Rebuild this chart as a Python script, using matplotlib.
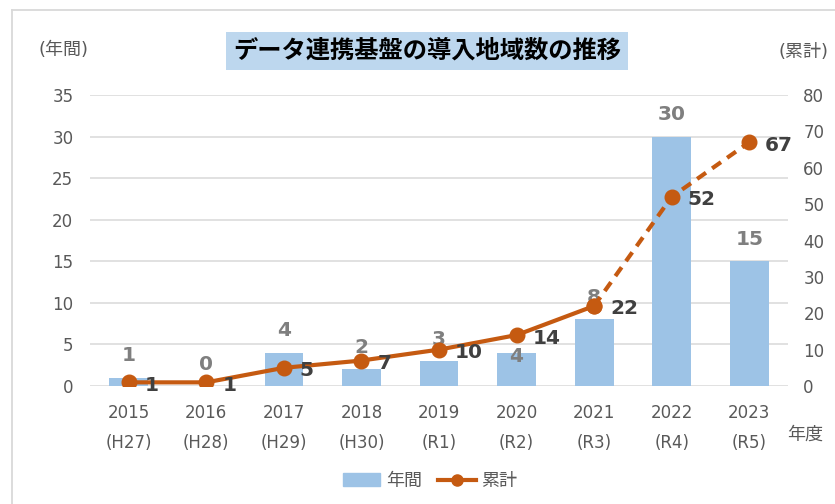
import numpy as np
import matplotlib.pyplot as plt
from matplotlib.lines import Line2D

plt.rcParams['font.family'] = ['DejaVu Sans', 'Noto Sans CJK JP']

# Data
years = ['2015', '2016', '2017', '2018', '2019', '2020', '2021', '2022', '2023']
eras = ['(H27)', '(H28)', '(H29)', '(H30)', '(R1)', '(R2)', '(R3)', '(R4)', '(R5)']
annual = [1, 0, 4, 2, 3, 4, 8, 30, 15]
cumulative = [1, 1, 5, 7, 10, 14, 22, 52, 67]
dashed_from = '2021'  # line is drawn dashed from this year on

BAR_COLOR = '#9DC3E6'
LINE_COLOR = '#C55A11'
GRID_COLOR = '#D9D9D9'
TICK_COLOR = '#595959'

fig = plt.figure(figsize=(8.35, 5.04), dpi=100)
W, H = 835, 504
ax = fig.add_axes([90 / W, 1 - 386 / H, (788 - 90) / W, (386 - 95) / H])
ax2 = ax.twinx()

x = np.arange(len(years))
ax.bar(x, annual, width=0.5, color=BAR_COLOR, zorder=2)
ax.set_xlim(-0.5, len(years) - 0.5)
ax.set_ylim(0, 35)
ax.set_yticks(range(0, 36, 5))
ax.grid(axis='y', color=GRID_COLOR, linewidth=1.1, zorder=0)
ax.set_axisbelow(True)

ax.set_xticks(x)
ax.set_xticklabels([f'{y}\n{e}' for y, e in zip(years, eras)], linespacing=1.85)
ax.tick_params(axis='x', length=0, pad=13, labelsize=12, labelcolor=TICK_COLOR)
ax.tick_params(axis='y', length=0, pad=12, labelsize=12, labelcolor=TICK_COLOR)

# bar value labels; the 2020 label sits just inside its bar
for i, v in enumerate(annual):
    dy = -4 if years[i] == '2020' else 22
    ax.annotate(str(v), (x[i], v), xytext=(0, dy), textcoords='offset pixels',
                ha='center', va='center', fontsize=14.5, fontweight='bold',
                color='#7F7F7F', zorder=3)

# cumulative line, solid then dashed
k = years.index(dashed_from)
ax2.plot(x[:k + 1], cumulative[:k + 1], color=LINE_COLOR, linewidth=3,
         marker='o', markersize=10.5, solid_capstyle='round', zorder=4)
ax2.plot(x[k:], cumulative[k:], color=LINE_COLOR, linewidth=3,
         dashes=(2.6, 1.8), marker='o', markersize=10.5, zorder=4)
for i, v in enumerate(cumulative):
    ax2.annotate(str(v), (x[i], v), xytext=(16, -3), textcoords='offset pixels',
                 ha='left', va='center', fontsize=14.5, fontweight='bold',
                 color='#404040', zorder=5)

ax2.set_ylim(0, 80)
ax2.set_yticks(range(0, 81, 10))
ax2.tick_params(axis='y', length=0, pad=11, labelsize=12, labelcolor=TICK_COLOR)

for a in (ax, ax2):
    for s in a.spines.values():
        s.set_visible(False)

# axis captions and title
fig.text(64 / W, 1 - 50 / H, '(年間)', ha='center', va='center',
         fontsize=13, color=TICK_COLOR)
fig.text(804 / W, 1 - 52 / H, '(累計)', ha='center', va='center',
         fontsize=13, color=TICK_COLOR)
fig.text(805 / W, 1 - 435 / H, '年度', ha='center', va='center',
         fontsize=13, color=TICK_COLOR)
fig.text(427 / W, 1 - 51 / H, 'データ連携基盤の導入地域数の推移', ha='center',
         va='center', fontsize=17.5, fontweight='bold', color='black',
         bbox=dict(boxstyle='square,pad=0.3', facecolor='#BDD7EE', edgecolor='none'))

# legend
handles = [plt.Rectangle((0, 0), 1, 1, color=BAR_COLOR),
           Line2D([], [], color=LINE_COLOR, linewidth=3, marker='o', markersize=8)]
fig.legend(handles, ['年間', '累計'], loc='center', bbox_to_anchor=(430 / W, 1 - 481 / H),
           ncol=2, frameon=False, fontsize=13, labelcolor=TICK_COLOR,
           handlelength=2.1, handletextpad=0.3, columnspacing=0.9)

# chart frame (top and left edges)
fig.add_artist(Line2D([12 / W, 12 / W], [0, 1 - 10 / H], transform=fig.transFigure,
                      color=GRID_COLOR, linewidth=1.3))
fig.add_artist(Line2D([12 / W, 1], [1 - 10 / H, 1 - 10 / H], transform=fig.transFigure,
                      color=GRID_COLOR, linewidth=1.3))

fig.savefig('out.png', dpi=100)
